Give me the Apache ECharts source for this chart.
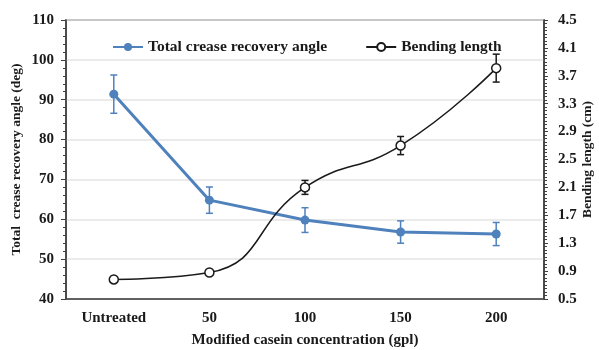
<!DOCTYPE html>
<html>
<head>
<meta charset="utf-8">
<script src="https://cdn.jsdelivr.net/npm/echarts@6/dist/echarts.min.js"></script>
<style>html,body{margin:0;padding:0;background:#fff}#c{width:599px;height:350px}</style>
</head>
<body>
<div id="c"></div>
<script>
// Modified casein concentration levels
var categories = ['Untreated', '50', '100', '150', '200'];
// Total crease recovery angle (deg): mean and standard deviation
var crraMean = [91.4, 64.8, 59.8, 56.8, 56.3];
var crraErr = [4.8, 3.3, 3.1, 2.8, 2.9];
// Bending length (cm): mean and standard deviation
var blMean = [0.78, 0.88, 2.1, 2.7, 3.81];
var blErr = [0.03, 0.03, 0.1, 0.13, 0.2];

var FONT = '"Liberation Serif", "Times New Roman", serif';
var BLUE = '#4f81bd';
var INK = '#1a1a1a';

function errorBars(means, errs, color, yAxisIndex, z) {
  var data = means.map(function (m, i) { return [i, m - errs[i], m + errs[i]]; });
  return {
    type: 'custom',
    yAxisIndex: yAxisIndex,
    z: z,
    silent: true,
    data: data,
    renderItem: function (params, api) {
      var lo = api.coord([api.value(0), api.value(1)]);
      var hi = api.coord([api.value(0), api.value(2)]);
      var w = 3.5;
      var st = { stroke: color, lineWidth: 1.5 };
      return {
        type: 'group',
        children: [
          { type: 'line', shape: { x1: lo[0], y1: lo[1], x2: hi[0], y2: hi[1] }, style: st },
          { type: 'line', shape: { x1: lo[0] - w, y1: lo[1], x2: lo[0] + w, y2: lo[1] }, style: st },
          { type: 'line', shape: { x1: hi[0] - w, y1: hi[1], x2: hi[0] + w, y2: hi[1] }, style: st }
        ]
      };
    }
  };
}

function txt(size) {
  return { fontFamily: FONT, fontWeight: 'bold', fontSize: size, color: INK };
}

var chart = echarts.init(document.getElementById('c'));
chart.setOption({
  animation: false,
  textStyle: { fontFamily: FONT },
  grid: {
    left: 66, right: 55, top: 20, bottom: 51,
    containLabel: false,
    outerBoundsMode: 'none',
    show: true, borderColor: '#404040', borderWidth: 1.5, backgroundColor: 'transparent'
  },
  legend: {
    top: 34,
    left: 107,
    itemGap: 38,
    itemWidth: 30,
    itemHeight: 10,
    textStyle: txt(15.5),
    data: ['Total crease recovery angle', 'Bending length']
  },
  xAxis: {
    type: 'category',
    data: categories,
    boundaryGap: true,
    axisLine: { lineStyle: { color: '#404040', width: 1.5 } },
    axisTick: { show: false },
    axisLabel: Object.assign({ margin: 12 }, txt(15)),
    name: 'Modified casein concentration (gpl)',
    nameLocation: 'middle',
    nameMoveOverlap: false,
    nameGap: 34,
    nameTextStyle: txt(15)
  },
  yAxis: [
    {
      type: 'value',
      min: 40, max: 110, interval: 10,
      position: 'left',
      axisLine: { show: true, lineStyle: { color: '#404040', width: 1.5 } },
      axisTick: { show: true, length: 5, lineStyle: { color: '#404040' } },
      minorTick: { show: true, splitNumber: 5, length: 3, lineStyle: { color: '#404040' } },
      splitLine: { lineStyle: { color: '#e4e4e4', width: 1.5 } },
      axisLabel: Object.assign({ margin: 12 }, txt(15)),
      name: 'Total  crease recovery angle (deg)',
      nameLocation: 'middle',
      nameMoveOverlap: false,
      nameGap: 42,
      nameTextStyle: txt(13.5)
    },
    {
      type: 'value',
      min: 0.5, max: 4.5, interval: 0.4,
      position: 'right',
      axisLine: { show: true, lineStyle: { color: '#404040', width: 1.5 } },
      axisTick: { show: true, length: 4, lineStyle: { color: '#404040' } },
      minorTick: { show: true, splitNumber: 8, length: 3, lineStyle: { color: '#404040' } },
      splitLine: { show: false },
      axisLabel: Object.assign({ margin: 14, formatter: function (v) { return v.toFixed(1); } }, txt(15)),
      name: 'Bending length (cm)',
      nameLocation: 'middle',
      nameRotate: 90,
      nameMoveOverlap: false,
      nameGap: 37,
      nameTextStyle: txt(13.5)
    }
  ],
  series: [
    errorBars(crraMean, crraErr, BLUE, 0, 3),
    errorBars(blMean, blErr, INK, 1, 3),
    {
      name: 'Total crease recovery angle',
      type: 'line',
      yAxisIndex: 0,
      data: crraMean,
      symbol: 'circle',
      symbolSize: 9,
      z: 4,
      lineStyle: { color: BLUE, width: 3 },
      itemStyle: { color: BLUE }
    },
    {
      name: 'Bending length',
      type: 'line',
      yAxisIndex: 1,
      data: blMean,
      smooth: 0.5,
      symbol: 'circle',
      symbolSize: 9,
      z: 5,
      lineStyle: { color: INK, width: 1.5 },
      itemStyle: { color: '#fff', borderColor: INK, borderWidth: 1.5 }
    }
  ]
});
</script>
</body>
</html>
